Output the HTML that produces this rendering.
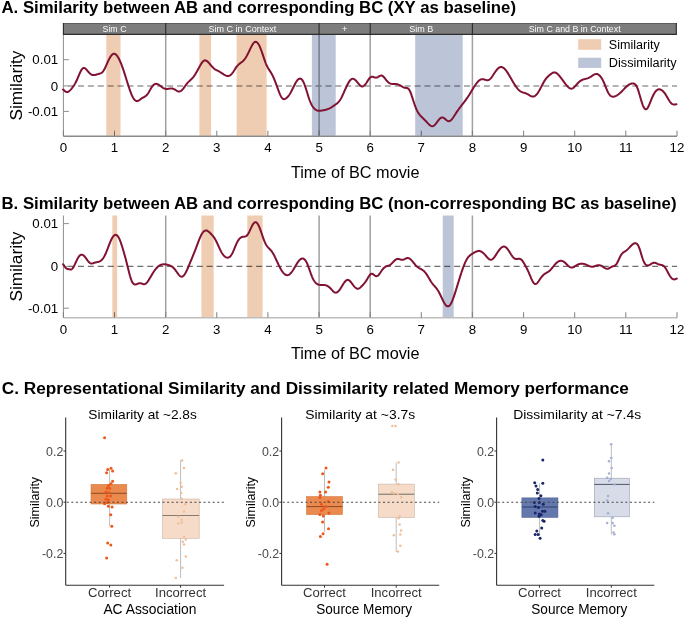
<!DOCTYPE html>
<html><head><meta charset="utf-8"><title>Figure</title>
<style>
html,body{margin:0;padding:0;background:#fff;}
body{width:685px;height:618px;overflow:hidden;font-family:"Liberation Sans",sans-serif;}
svg{display:block;}
</style></head><body>
<svg width="685" height="618" viewBox="0 0 685 618" font-family="Liberation Sans">
<rect width="685" height="618" fill="#ffffff"/>
<text x="1.5" y="13.3" font-size="15.60" text-anchor="start" font-weight="bold" fill="#000" textLength="514.5" lengthAdjust="spacingAndGlyphs" >A. Similarity between AB and corresponding BC (XY as baseline)</text>
<text x="1.5" y="208.6" font-size="15.60" text-anchor="start" font-weight="bold" fill="#000" textLength="675.0" lengthAdjust="spacingAndGlyphs" >B. Similarity between AB and corresponding BC (non-corresponding BC as baseline)</text>
<text x="1.8" y="394.2" font-size="15.60" text-anchor="start" font-weight="bold" fill="#000" textLength="627.0" lengthAdjust="spacingAndGlyphs" >C. Representational Similarity and Dissimilarity related Memory performance</text>
<rect x="63.4" y="23.0" width="613.1" height="12.0" fill="#7c7d7c"/>
<line x1="63.4" y1="23.5" x2="676.5" y2="23.5" stroke="#5e5e5e" stroke-width="1"/>
<line x1="63.4" y1="34.4" x2="676.5" y2="34.4" stroke="#2e2e2e" stroke-width="1.2"/>
<line x1="63.4" y1="23" x2="63.4" y2="35" stroke="#2a2a2a" stroke-width="1.1"/>
<line x1="165.7" y1="23" x2="165.7" y2="35" stroke="#2a2a2a" stroke-width="1.1"/>
<line x1="319.1" y1="23" x2="319.1" y2="35" stroke="#2a2a2a" stroke-width="1.1"/>
<line x1="370.2" y1="23" x2="370.2" y2="35" stroke="#2a2a2a" stroke-width="1.1"/>
<line x1="472.4" y1="23" x2="472.4" y2="35" stroke="#2a2a2a" stroke-width="1.1"/>
<line x1="676.3" y1="23" x2="676.3" y2="35" stroke="#2a2a2a" stroke-width="1.1"/>
<text x="114.5" y="32.3" font-size="9.30" text-anchor="middle" font-weight="normal" fill="#fbfbfb" textLength="24.0" lengthAdjust="spacingAndGlyphs" >Sim C</text>
<text x="242.4" y="32.3" font-size="9.30" text-anchor="middle" font-weight="normal" fill="#fbfbfb" textLength="68.0" lengthAdjust="spacingAndGlyphs" >Sim C in Context</text>
<text x="344.6" y="32.3" font-size="9.30" text-anchor="middle" font-weight="normal" fill="#fbfbfb" >+</text>
<text x="421.3" y="32.3" font-size="9.30" text-anchor="middle" font-weight="normal" fill="#fbfbfb" textLength="24.0" lengthAdjust="spacingAndGlyphs" >Sim B</text>
<text x="574.7" y="32.3" font-size="9.30" text-anchor="middle" font-weight="normal" fill="#fbfbfb" textLength="92.0" lengthAdjust="spacingAndGlyphs" >Sim C and B in Context</text>
<line x1="165.7" y1="35.0" x2="165.7" y2="136.2" stroke="#a0a0a0" stroke-width="1.5"/>
<line x1="319.1" y1="35.0" x2="319.1" y2="136.2" stroke="#a0a0a0" stroke-width="1.5"/>
<line x1="370.2" y1="35.0" x2="370.2" y2="136.2" stroke="#a0a0a0" stroke-width="1.5"/>
<line x1="472.4" y1="35.0" x2="472.4" y2="136.2" stroke="#a0a0a0" stroke-width="1.5"/>
<line x1="63.4" y1="85.9" x2="677.0" y2="85.9" stroke="#9a9a9a" stroke-width="1.50" stroke-dasharray="6,3.9" stroke-dashoffset="5.24"/>
<line x1="63.4" y1="35.0" x2="63.4" y2="136.2" stroke="#8f8f8f" stroke-width="1"/>
<line x1="63.4" y1="136.2" x2="677.0" y2="136.2" stroke="#8a8a8a" stroke-width="1.4"/>
<line x1="63.4" y1="59.7" x2="68.9" y2="59.7" stroke="#8f8f8f" stroke-width="1"/>
<line x1="63.4" y1="85.9" x2="68.9" y2="85.9" stroke="#8f8f8f" stroke-width="1"/>
<line x1="63.4" y1="111.4" x2="68.9" y2="111.4" stroke="#8f8f8f" stroke-width="1"/>
<line x1="63.4" y1="136.2" x2="63.4" y2="130.7" stroke="#7f7f7f" stroke-width="1"/>
<line x1="114.5" y1="136.2" x2="114.5" y2="130.7" stroke="#7f7f7f" stroke-width="1"/>
<line x1="165.7" y1="136.2" x2="165.7" y2="130.7" stroke="#7f7f7f" stroke-width="1"/>
<line x1="216.8" y1="136.2" x2="216.8" y2="130.7" stroke="#7f7f7f" stroke-width="1"/>
<line x1="267.9" y1="136.2" x2="267.9" y2="130.7" stroke="#7f7f7f" stroke-width="1"/>
<line x1="319.1" y1="136.2" x2="319.1" y2="130.7" stroke="#7f7f7f" stroke-width="1"/>
<line x1="370.2" y1="136.2" x2="370.2" y2="130.7" stroke="#7f7f7f" stroke-width="1"/>
<line x1="421.3" y1="136.2" x2="421.3" y2="130.7" stroke="#7f7f7f" stroke-width="1"/>
<line x1="472.4" y1="136.2" x2="472.4" y2="130.7" stroke="#7f7f7f" stroke-width="1"/>
<line x1="523.6" y1="136.2" x2="523.6" y2="130.7" stroke="#7f7f7f" stroke-width="1"/>
<line x1="574.7" y1="136.2" x2="574.7" y2="130.7" stroke="#7f7f7f" stroke-width="1"/>
<line x1="625.8" y1="136.2" x2="625.8" y2="130.7" stroke="#7f7f7f" stroke-width="1"/>
<line x1="677.0" y1="136.2" x2="677.0" y2="130.7" stroke="#7f7f7f" stroke-width="1"/>
<rect x="106.3" y="35.0" width="14.2" height="100.5" fill="#efcdb2" style="mix-blend-mode:multiply"/>
<rect x="199.4" y="35.0" width="11.7" height="100.5" fill="#efcdb2" style="mix-blend-mode:multiply"/>
<rect x="236.6" y="35.0" width="30.0" height="100.5" fill="#efcdb2" style="mix-blend-mode:multiply"/>
<rect x="311.9" y="35.0" width="23.8" height="100.5" fill="#bcc4d8" style="mix-blend-mode:multiply"/>
<rect x="415.2" y="35.0" width="47.5" height="100.5" fill="#bcc4d8" style="mix-blend-mode:multiply"/>
<path d="M63.00,89.49 L63.50,89.84 L64.00,90.28 L64.50,90.74 L65.00,91.17 L65.50,91.54 L66.00,91.81 L66.50,91.98 L67.00,92.03 L67.50,91.98 L68.00,91.82 L68.50,91.58 L69.00,91.25 L69.50,90.85 L70.00,90.38 L70.50,89.87 L71.00,89.31 L71.50,88.72 L72.00,88.10 L72.50,87.45 L73.00,86.77 L73.50,86.06 L74.00,85.32 L74.50,84.53 L75.00,83.69 L75.50,82.79 L76.00,81.83 L76.50,80.81 L77.00,79.73 L77.50,78.60 L78.00,77.43 L78.50,76.24 L79.00,75.04 L79.50,73.87 L80.00,72.75 L80.50,71.69 L81.00,70.72 L81.50,69.87 L82.00,69.15 L82.50,68.58 L83.00,68.19 L83.50,67.97 L84.00,67.92 L84.50,68.03 L85.00,68.29 L85.50,68.66 L86.00,69.13 L86.50,69.66 L87.00,70.24 L87.50,70.83 L88.00,71.43 L88.50,72.00 L89.00,72.55 L89.50,73.06 L90.00,73.52 L90.50,73.93 L91.00,74.29 L91.50,74.58 L92.00,74.80 L92.50,74.96 L93.00,75.06 L93.50,75.10 L94.00,75.09 L94.50,75.04 L95.00,74.95 L95.50,74.83 L96.00,74.69 L96.50,74.54 L97.00,74.39 L97.50,74.24 L98.00,74.09 L98.50,73.95 L99.00,73.82 L99.50,73.69 L100.00,73.55 L100.50,73.37 L101.00,73.15 L101.50,72.85 L102.00,72.48 L102.50,72.00 L103.00,71.41 L103.50,70.71 L104.00,69.90 L104.50,69.00 L105.00,68.02 L105.50,66.98 L106.00,65.89 L106.50,64.77 L107.00,63.65 L107.50,62.53 L108.00,61.43 L108.50,60.37 L109.00,59.35 L109.50,58.39 L110.00,57.50 L110.50,56.68 L111.00,55.95 L111.50,55.31 L112.00,54.76 L112.50,54.33 L113.00,54.00 L113.50,53.80 L114.00,53.73 L114.50,53.77 L115.00,53.94 L115.50,54.23 L116.00,54.63 L116.50,55.13 L117.00,55.74 L117.50,56.44 L118.00,57.22 L118.50,58.09 L119.00,59.03 L119.50,60.04 L120.00,61.12 L120.50,62.26 L121.00,63.47 L121.50,64.73 L122.00,66.04 L122.50,67.41 L123.00,68.82 L123.50,70.28 L124.00,71.78 L124.50,73.32 L125.00,74.88 L125.50,76.47 L126.00,78.07 L126.50,79.68 L127.00,81.28 L127.50,82.88 L128.00,84.46 L128.50,86.01 L129.00,87.53 L129.50,89.00 L130.00,90.43 L130.50,91.80 L131.00,93.10 L131.50,94.33 L132.00,95.48 L132.50,96.54 L133.00,97.51 L133.50,98.37 L134.00,99.12 L134.50,99.75 L135.00,100.26 L135.50,100.64 L136.00,100.89 L136.50,101.03 L137.00,101.05 L137.50,100.98 L138.00,100.82 L138.50,100.59 L139.00,100.31 L139.50,99.97 L140.00,99.62 L140.50,99.24 L141.00,98.87 L141.50,98.51 L142.00,98.16 L142.50,97.85 L143.00,97.56 L143.50,97.28 L144.00,97.02 L144.50,96.75 L145.00,96.46 L145.50,96.13 L146.00,95.75 L146.50,95.30 L147.00,94.77 L147.50,94.16 L148.00,93.46 L148.50,92.69 L149.00,91.87 L149.50,91.00 L150.00,90.12 L150.50,89.23 L151.00,88.37 L151.50,87.55 L152.00,86.80 L152.50,86.11 L153.00,85.51 L153.50,85.01 L154.00,84.59 L154.50,84.27 L155.00,84.03 L155.50,83.89 L156.00,83.83 L156.50,83.86 L157.00,83.96 L157.50,84.12 L158.00,84.35 L158.50,84.63 L159.00,84.95 L159.50,85.30 L160.00,85.66 L160.50,86.04 L161.00,86.42 L161.50,86.79 L162.00,87.15 L162.50,87.48 L163.00,87.80 L163.50,88.08 L164.00,88.33 L164.50,88.55 L165.00,88.72 L165.50,88.85 L166.00,88.93 L166.50,88.97 L167.00,88.97 L167.50,88.94 L168.00,88.88 L168.50,88.80 L169.00,88.71 L169.50,88.63 L170.00,88.55 L170.50,88.49 L171.00,88.45 L171.50,88.44 L172.00,88.47 L172.50,88.55 L173.00,88.67 L173.50,88.85 L174.00,89.08 L174.50,89.34 L175.00,89.64 L175.50,89.96 L176.00,90.28 L176.50,90.60 L177.00,90.89 L177.50,91.14 L178.00,91.33 L178.50,91.46 L179.00,91.52 L179.50,91.48 L180.00,91.36 L180.50,91.15 L181.00,90.85 L181.50,90.47 L182.00,90.02 L182.50,89.49 L183.00,88.91 L183.50,88.28 L184.00,87.61 L184.50,86.91 L185.00,86.21 L185.50,85.51 L186.00,84.82 L186.50,84.16 L187.00,83.54 L187.50,82.95 L188.00,82.40 L188.50,81.89 L189.00,81.39 L189.50,80.92 L190.00,80.45 L190.50,79.99 L191.00,79.52 L191.50,79.04 L192.00,78.53 L192.50,77.99 L193.00,77.42 L193.50,76.80 L194.00,76.14 L194.50,75.43 L195.00,74.68 L195.50,73.89 L196.00,73.06 L196.50,72.20 L197.00,71.32 L197.50,70.42 L198.00,69.50 L198.50,68.58 L199.00,67.66 L199.50,66.74 L200.00,65.84 L200.50,64.96 L201.00,64.12 L201.50,63.33 L202.00,62.61 L202.50,61.97 L203.00,61.42 L203.50,60.97 L204.00,60.64 L204.50,60.43 L205.00,60.35 L205.50,60.38 L206.00,60.53 L206.50,60.78 L207.00,61.11 L207.50,61.52 L208.00,61.99 L208.50,62.51 L209.00,63.06 L209.50,63.64 L210.00,64.23 L210.50,64.82 L211.00,65.40 L211.50,65.98 L212.00,66.53 L212.50,67.06 L213.00,67.56 L213.50,68.03 L214.00,68.46 L214.50,68.86 L215.00,69.22 L215.50,69.56 L216.00,69.86 L216.50,70.15 L217.00,70.42 L217.50,70.68 L218.00,70.94 L218.50,71.19 L219.00,71.45 L219.50,71.72 L220.00,72.00 L220.50,72.30 L221.00,72.61 L221.50,72.93 L222.00,73.26 L222.50,73.60 L223.00,73.94 L223.50,74.27 L224.00,74.59 L224.50,74.88 L225.00,75.16 L225.50,75.40 L226.00,75.61 L226.50,75.78 L227.00,75.90 L227.50,75.96 L228.00,75.97 L228.50,75.92 L229.00,75.80 L229.50,75.61 L230.00,75.35 L230.50,75.02 L231.00,74.61 L231.50,74.13 L232.00,73.57 L232.50,72.95 L233.00,72.27 L233.50,71.53 L234.00,70.76 L234.50,69.97 L235.00,69.18 L235.50,68.40 L236.00,67.64 L236.50,66.92 L237.00,66.26 L237.50,65.65 L238.00,65.10 L238.50,64.60 L239.00,64.15 L239.50,63.74 L240.00,63.35 L240.50,62.99 L241.00,62.62 L241.50,62.25 L242.00,61.87 L242.50,61.46 L243.00,61.01 L243.50,60.51 L244.00,59.96 L244.50,59.36 L245.00,58.69 L245.50,57.97 L246.00,57.19 L246.50,56.36 L247.00,55.48 L247.50,54.55 L248.00,53.58 L248.50,52.57 L249.00,51.54 L249.50,50.49 L250.00,49.43 L250.50,48.38 L251.00,47.35 L251.50,46.37 L252.00,45.43 L252.50,44.57 L253.00,43.80 L253.50,43.14 L254.00,42.59 L254.50,42.19 L255.00,41.92 L255.50,41.81 L256.00,41.85 L256.50,42.04 L257.00,42.37 L257.50,42.85 L258.00,43.46 L258.50,44.20 L259.00,45.07 L259.50,46.05 L260.00,47.14 L260.50,48.33 L261.00,49.62 L261.50,50.98 L262.00,52.40 L262.50,53.87 L263.00,55.36 L263.50,56.86 L264.00,58.35 L264.50,59.81 L265.00,61.21 L265.50,62.56 L266.00,63.82 L266.50,64.99 L267.00,66.07 L267.50,67.05 L268.00,67.96 L268.50,68.80 L269.00,69.60 L269.50,70.37 L270.00,71.13 L270.50,71.90 L271.00,72.70 L271.50,73.55 L272.00,74.45 L272.50,75.41 L273.00,76.43 L273.50,77.52 L274.00,78.66 L274.50,79.85 L275.00,81.10 L275.50,82.39 L276.00,83.71 L276.50,85.07 L277.00,86.45 L277.50,87.84 L278.00,89.22 L278.50,90.58 L279.00,91.90 L279.50,93.16 L280.00,94.34 L280.50,95.43 L281.00,96.40 L281.50,97.23 L282.00,97.93 L282.50,98.46 L283.00,98.84 L283.50,99.06 L284.00,99.14 L284.50,99.10 L285.00,98.95 L285.50,98.70 L286.00,98.39 L286.50,98.01 L287.00,97.57 L287.50,97.08 L288.00,96.53 L288.50,95.92 L289.00,95.26 L289.50,94.53 L290.00,93.74 L290.50,92.89 L291.00,91.98 L291.50,91.02 L292.00,90.03 L292.50,89.02 L293.00,87.99 L293.50,86.96 L294.00,85.94 L294.50,84.94 L295.00,83.99 L295.50,83.07 L296.00,82.22 L296.50,81.43 L297.00,80.72 L297.50,80.09 L298.00,79.56 L298.50,79.14 L299.00,78.83 L299.50,78.64 L300.00,78.57 L300.50,78.65 L301.00,78.86 L301.50,79.22 L302.00,79.73 L302.50,80.38 L303.00,81.19 L303.50,82.15 L304.00,83.25 L304.50,84.50 L305.00,85.87 L305.50,87.35 L306.00,88.90 L306.50,90.52 L307.00,92.15 L307.50,93.79 L308.00,95.39 L308.50,96.94 L309.00,98.41 L309.50,99.81 L310.00,101.11 L310.50,102.32 L311.00,103.44 L311.50,104.47 L312.00,105.41 L312.50,106.26 L313.00,107.03 L313.50,107.71 L314.00,108.31 L314.50,108.83 L315.00,109.28 L315.50,109.65 L316.00,109.97 L316.50,110.22 L317.00,110.42 L317.50,110.57 L318.00,110.67 L318.50,110.74 L319.00,110.77 L319.50,110.77 L320.00,110.74 L320.50,110.70 L321.00,110.64 L321.50,110.57 L322.00,110.49 L322.50,110.41 L323.00,110.33 L323.50,110.24 L324.00,110.15 L324.50,110.05 L325.00,109.94 L325.50,109.83 L326.00,109.70 L326.50,109.56 L327.00,109.41 L327.50,109.24 L328.00,109.05 L328.50,108.85 L329.00,108.62 L329.50,108.38 L330.00,108.12 L330.50,107.85 L331.00,107.56 L331.50,107.25 L332.00,106.94 L332.50,106.61 L333.00,106.27 L333.50,105.93 L334.00,105.58 L334.50,105.23 L335.00,104.88 L335.50,104.52 L336.00,104.15 L336.50,103.77 L337.00,103.37 L337.50,102.94 L338.00,102.47 L338.50,101.96 L339.00,101.39 L339.50,100.76 L340.00,100.05 L340.50,99.28 L341.00,98.43 L341.50,97.51 L342.00,96.53 L342.50,95.49 L343.00,94.41 L343.50,93.30 L344.00,92.17 L344.50,91.02 L345.00,89.88 L345.50,88.74 L346.00,87.63 L346.50,86.55 L347.00,85.50 L347.50,84.50 L348.00,83.56 L348.50,82.67 L349.00,81.86 L349.50,81.13 L350.00,80.48 L350.50,79.93 L351.00,79.48 L351.50,79.13 L352.00,78.90 L352.50,78.78 L353.00,78.77 L353.50,78.88 L354.00,79.08 L354.50,79.37 L355.00,79.74 L355.50,80.18 L356.00,80.67 L356.50,81.22 L357.00,81.80 L357.50,82.40 L358.00,83.02 L358.50,83.62 L359.00,84.21 L359.50,84.76 L360.00,85.26 L360.50,85.69 L361.00,86.03 L361.50,86.28 L362.00,86.42 L362.50,86.43 L363.00,86.33 L363.50,86.10 L364.00,85.76 L364.50,85.32 L365.00,84.78 L365.50,84.16 L366.00,83.46 L366.50,82.71 L367.00,81.93 L367.50,81.12 L368.00,80.32 L368.50,79.55 L369.00,78.84 L369.50,78.20 L370.00,77.67 L370.50,77.25 L371.00,76.95 L371.50,76.78 L372.00,76.72 L372.50,76.76 L373.00,76.86 L373.50,77.01 L374.00,77.19 L374.50,77.36 L375.00,77.51 L375.50,77.61 L376.00,77.65 L376.50,77.61 L377.00,77.48 L377.50,77.28 L378.00,77.01 L378.50,76.71 L379.00,76.40 L379.50,76.10 L380.00,75.84 L380.50,75.65 L381.00,75.54 L381.50,75.55 L382.00,75.67 L382.50,75.92 L383.00,76.27 L383.50,76.73 L384.00,77.26 L384.50,77.85 L385.00,78.49 L385.50,79.14 L386.00,79.79 L386.50,80.43 L387.00,81.03 L387.50,81.58 L388.00,82.07 L388.50,82.49 L389.00,82.86 L389.50,83.16 L390.00,83.41 L390.50,83.61 L391.00,83.76 L391.50,83.87 L392.00,83.94 L392.50,83.98 L393.00,84.01 L393.50,84.01 L394.00,84.01 L394.50,84.01 L395.00,84.01 L395.50,84.02 L396.00,84.06 L396.50,84.11 L397.00,84.20 L397.50,84.31 L398.00,84.44 L398.50,84.61 L399.00,84.81 L399.50,85.04 L400.00,85.30 L400.50,85.58 L401.00,85.88 L401.50,86.18 L402.00,86.49 L402.50,86.79 L403.00,87.07 L403.50,87.31 L404.00,87.51 L404.50,87.67 L405.00,87.78 L405.50,87.85 L406.00,87.89 L406.50,87.94 L407.00,88.03 L407.50,88.19 L408.00,88.47 L408.50,88.89 L409.00,89.48 L409.50,90.27 L410.00,91.24 L410.50,92.40 L411.00,93.70 L411.50,95.12 L412.00,96.62 L412.50,98.17 L413.00,99.72 L413.50,101.27 L414.00,102.79 L414.50,104.26 L415.00,105.66 L415.50,107.00 L416.00,108.26 L416.50,109.43 L417.00,110.51 L417.50,111.49 L418.00,112.38 L418.50,113.18 L419.00,113.91 L419.50,114.58 L420.00,115.18 L420.50,115.75 L421.00,116.28 L421.50,116.79 L422.00,117.29 L422.50,117.77 L423.00,118.26 L423.50,118.74 L424.00,119.23 L424.50,119.72 L425.00,120.23 L425.50,120.74 L426.00,121.26 L426.50,121.79 L427.00,122.32 L427.50,122.86 L428.00,123.40 L428.50,123.92 L429.00,124.42 L429.50,124.88 L430.00,125.30 L430.50,125.65 L431.00,125.93 L431.50,126.13 L432.00,126.23 L432.50,126.22 L433.00,126.11 L433.50,125.89 L434.00,125.57 L434.50,125.16 L435.00,124.67 L435.50,124.11 L436.00,123.50 L436.50,122.85 L437.00,122.18 L437.50,121.50 L438.00,120.83 L438.50,120.17 L439.00,119.56 L439.50,118.99 L440.00,118.49 L440.50,118.08 L441.00,117.76 L441.50,117.55 L442.00,117.45 L442.50,117.47 L443.00,117.59 L443.50,117.82 L444.00,118.12 L444.50,118.48 L445.00,118.89 L445.50,119.31 L446.00,119.74 L446.50,120.14 L447.00,120.50 L447.50,120.80 L448.00,121.02 L448.50,121.14 L449.00,121.15 L449.50,121.05 L450.00,120.84 L450.50,120.53 L451.00,120.12 L451.50,119.62 L452.00,119.05 L452.50,118.41 L453.00,117.73 L453.50,117.00 L454.00,116.25 L454.50,115.48 L455.00,114.70 L455.50,113.92 L456.00,113.16 L456.50,112.40 L457.00,111.66 L457.50,110.94 L458.00,110.22 L458.50,109.52 L459.00,108.83 L459.50,108.15 L460.00,107.48 L460.50,106.82 L461.00,106.16 L461.50,105.51 L462.00,104.86 L462.50,104.21 L463.00,103.57 L463.50,102.92 L464.00,102.27 L464.50,101.61 L465.00,100.95 L465.50,100.28 L466.00,99.60 L466.50,98.91 L467.00,98.20 L467.50,97.48 L468.00,96.74 L468.50,95.98 L469.00,95.20 L469.50,94.41 L470.00,93.60 L470.50,92.78 L471.00,91.95 L471.50,91.11 L472.00,90.27 L472.50,89.44 L473.00,88.61 L473.50,87.79 L474.00,86.99 L474.50,86.20 L475.00,85.44 L475.50,84.71 L476.00,84.00 L476.50,83.33 L477.00,82.70 L477.50,82.11 L478.00,81.57 L478.50,81.07 L479.00,80.62 L479.50,80.22 L480.00,79.88 L480.50,79.61 L481.00,79.39 L481.50,79.24 L482.00,79.15 L482.50,79.13 L483.00,79.16 L483.50,79.25 L484.00,79.37 L484.50,79.52 L485.00,79.68 L485.50,79.85 L486.00,79.99 L486.50,80.11 L487.00,80.18 L487.50,80.20 L488.00,80.15 L488.50,80.02 L489.00,79.80 L489.50,79.49 L490.00,79.09 L490.50,78.61 L491.00,78.05 L491.50,77.43 L492.00,76.75 L492.50,76.04 L493.00,75.29 L493.50,74.53 L494.00,73.77 L494.50,73.01 L495.00,72.26 L495.50,71.54 L496.00,70.85 L496.50,70.19 L497.00,69.58 L497.50,69.01 L498.00,68.51 L498.50,68.07 L499.00,67.71 L499.50,67.41 L500.00,67.20 L500.50,67.07 L501.00,67.02 L501.50,67.04 L502.00,67.15 L502.50,67.33 L503.00,67.58 L503.50,67.90 L504.00,68.28 L504.50,68.73 L505.00,69.24 L505.50,69.81 L506.00,70.43 L506.50,71.10 L507.00,71.82 L507.50,72.58 L508.00,73.36 L508.50,74.18 L509.00,75.02 L509.50,75.87 L510.00,76.73 L510.50,77.60 L511.00,78.47 L511.50,79.33 L512.00,80.19 L512.50,81.05 L513.00,81.89 L513.50,82.72 L514.00,83.53 L514.50,84.33 L515.00,85.10 L515.50,85.85 L516.00,86.58 L516.50,87.27 L517.00,87.93 L517.50,88.56 L518.00,89.15 L518.50,89.69 L519.00,90.18 L519.50,90.63 L520.00,91.02 L520.50,91.37 L521.00,91.66 L521.50,91.91 L522.00,92.13 L522.50,92.32 L523.00,92.48 L523.50,92.62 L524.00,92.76 L524.50,92.90 L525.00,93.04 L525.50,93.20 L526.00,93.38 L526.50,93.58 L527.00,93.81 L527.50,94.07 L528.00,94.36 L528.50,94.66 L529.00,94.97 L529.50,95.28 L530.00,95.58 L530.50,95.86 L531.00,96.11 L531.50,96.31 L532.00,96.47 L532.50,96.57 L533.00,96.60 L533.50,96.55 L534.00,96.42 L534.50,96.21 L535.00,95.91 L535.50,95.54 L536.00,95.09 L536.50,94.56 L537.00,93.97 L537.50,93.32 L538.00,92.60 L538.50,91.83 L539.00,91.01 L539.50,90.14 L540.00,89.24 L540.50,88.31 L541.00,87.35 L541.50,86.39 L542.00,85.42 L542.50,84.45 L543.00,83.51 L543.50,82.59 L544.00,81.70 L544.50,80.86 L545.00,80.07 L545.50,79.34 L546.00,78.66 L546.50,78.03 L547.00,77.46 L547.50,76.93 L548.00,76.44 L548.50,75.98 L549.00,75.55 L549.50,75.13 L550.00,74.73 L550.50,74.34 L551.00,73.96 L551.50,73.60 L552.00,73.26 L552.50,72.96 L553.00,72.72 L553.50,72.53 L554.00,72.41 L554.50,72.38 L555.00,72.43 L555.50,72.56 L556.00,72.78 L556.50,73.08 L557.00,73.44 L557.50,73.87 L558.00,74.34 L558.50,74.87 L559.00,75.43 L559.50,76.02 L560.00,76.64 L560.50,77.27 L561.00,77.92 L561.50,78.58 L562.00,79.25 L562.50,79.92 L563.00,80.60 L563.50,81.29 L564.00,81.97 L564.50,82.65 L565.00,83.32 L565.50,83.98 L566.00,84.62 L566.50,85.24 L567.00,85.83 L567.50,86.38 L568.00,86.89 L568.50,87.34 L569.00,87.74 L569.50,88.08 L570.00,88.34 L570.50,88.53 L571.00,88.63 L571.50,88.64 L572.00,88.56 L572.50,88.39 L573.00,88.13 L573.50,87.79 L574.00,87.38 L574.50,86.90 L575.00,86.38 L575.50,85.83 L576.00,85.25 L576.50,84.67 L577.00,84.09 L577.50,83.52 L578.00,82.98 L578.50,82.47 L579.00,82.01 L579.50,81.58 L580.00,81.19 L580.50,80.84 L581.00,80.52 L581.50,80.24 L582.00,79.99 L582.50,79.77 L583.00,79.58 L583.50,79.41 L584.00,79.27 L584.50,79.13 L585.00,79.01 L585.50,78.89 L586.00,78.77 L586.50,78.64 L587.00,78.51 L587.50,78.35 L588.00,78.17 L588.50,77.97 L589.00,77.73 L589.50,77.47 L590.00,77.18 L590.50,76.87 L591.00,76.55 L591.50,76.21 L592.00,75.88 L592.50,75.55 L593.00,75.23 L593.50,74.93 L594.00,74.67 L594.50,74.44 L595.00,74.25 L595.50,74.12 L596.00,74.04 L596.50,74.03 L597.00,74.09 L597.50,74.22 L598.00,74.43 L598.50,74.71 L599.00,75.06 L599.50,75.49 L600.00,76.00 L600.50,76.57 L601.00,77.22 L601.50,77.94 L602.00,78.74 L602.50,79.62 L603.00,80.57 L603.50,81.61 L604.00,82.72 L604.50,83.90 L605.00,85.13 L605.50,86.39 L606.00,87.66 L606.50,88.90 L607.00,90.10 L607.50,91.23 L608.00,92.26 L608.50,93.18 L609.00,93.99 L609.50,94.67 L610.00,95.24 L610.50,95.71 L611.00,96.07 L611.50,96.34 L612.00,96.52 L612.50,96.63 L613.00,96.67 L613.50,96.64 L614.00,96.56 L614.50,96.43 L615.00,96.26 L615.50,96.05 L616.00,95.82 L616.50,95.55 L617.00,95.26 L617.50,94.95 L618.00,94.61 L618.50,94.25 L619.00,93.87 L619.50,93.47 L620.00,93.04 L620.50,92.60 L621.00,92.14 L621.50,91.66 L622.00,91.17 L622.50,90.66 L623.00,90.15 L623.50,89.62 L624.00,89.10 L624.50,88.57 L625.00,88.05 L625.50,87.54 L626.00,87.05 L626.50,86.57 L627.00,86.11 L627.50,85.69 L628.00,85.29 L628.50,84.93 L629.00,84.60 L629.50,84.31 L630.00,84.05 L630.50,83.84 L631.00,83.66 L631.50,83.53 L632.00,83.44 L632.50,83.40 L633.00,83.41 L633.50,83.49 L634.00,83.64 L634.50,83.88 L635.00,84.23 L635.50,84.72 L636.00,85.37 L636.50,86.18 L637.00,87.17 L637.50,88.34 L638.00,89.68 L638.50,91.17 L639.00,92.78 L639.50,94.47 L640.00,96.21 L640.50,97.96 L641.00,99.69 L641.50,101.35 L642.00,102.92 L642.50,104.37 L643.00,105.67 L643.50,106.80 L644.00,107.74 L644.50,108.48 L645.00,108.99 L645.50,109.28 L646.00,109.34 L646.50,109.15 L647.00,108.73 L647.50,108.11 L648.00,107.29 L648.50,106.32 L649.00,105.23 L649.50,104.06 L650.00,102.83 L650.50,101.58 L651.00,100.34 L651.50,99.12 L652.00,97.95 L652.50,96.82 L653.00,95.75 L653.50,94.74 L654.00,93.81 L654.50,92.96 L655.00,92.19 L655.50,91.52 L656.00,90.93 L656.50,90.44 L657.00,90.04 L657.50,89.73 L658.00,89.51 L658.50,89.36 L659.00,89.30 L659.50,89.31 L660.00,89.40 L660.50,89.55 L661.00,89.76 L661.50,90.04 L662.00,90.38 L662.50,90.78 L663.00,91.24 L663.50,91.76 L664.00,92.33 L664.50,92.96 L665.00,93.65 L665.50,94.39 L666.00,95.17 L666.50,95.99 L667.00,96.84 L667.50,97.71 L668.00,98.58 L668.50,99.43 L669.00,100.26 L669.50,101.05 L670.00,101.78 L670.50,102.44 L671.00,103.02 L671.50,103.51 L672.00,103.90 L672.50,104.19 L673.00,104.40 L673.50,104.52 L674.00,104.57 L674.50,104.56 L675.00,104.50 L675.50,104.42 L676.00,104.33 L676.50,104.25" fill="none" stroke="#811232" stroke-width="2" stroke-linejoin="round" stroke-linecap="round"/>
<text x="63.4" y="152.4" font-size="13.30" text-anchor="middle" font-weight="normal" fill="#000" >0</text>
<text x="114.5" y="152.4" font-size="13.30" text-anchor="middle" font-weight="normal" fill="#000" >1</text>
<text x="165.7" y="152.4" font-size="13.30" text-anchor="middle" font-weight="normal" fill="#000" >2</text>
<text x="216.8" y="152.4" font-size="13.30" text-anchor="middle" font-weight="normal" fill="#000" >3</text>
<text x="267.9" y="152.4" font-size="13.30" text-anchor="middle" font-weight="normal" fill="#000" >4</text>
<text x="319.1" y="152.4" font-size="13.30" text-anchor="middle" font-weight="normal" fill="#000" >5</text>
<text x="370.2" y="152.4" font-size="13.30" text-anchor="middle" font-weight="normal" fill="#000" >6</text>
<text x="421.3" y="152.4" font-size="13.30" text-anchor="middle" font-weight="normal" fill="#000" >7</text>
<text x="472.4" y="152.4" font-size="13.30" text-anchor="middle" font-weight="normal" fill="#000" >8</text>
<text x="523.6" y="152.4" font-size="13.30" text-anchor="middle" font-weight="normal" fill="#000" >9</text>
<text x="574.7" y="152.4" font-size="13.30" text-anchor="middle" font-weight="normal" fill="#000" >10</text>
<text x="625.8" y="152.4" font-size="13.30" text-anchor="middle" font-weight="normal" fill="#000" >11</text>
<text x="677.0" y="152.4" font-size="13.30" text-anchor="middle" font-weight="normal" fill="#000" >12</text>
<text x="58.2" y="64.4" font-size="13.30" text-anchor="end" font-weight="normal" fill="#000" >0.01</text>
<text x="58.2" y="90.6" font-size="13.30" text-anchor="end" font-weight="normal" fill="#000" >0</text>
<text x="58.2" y="116.1" font-size="13.30" text-anchor="end" font-weight="normal" fill="#000" >-0.01</text>
<text transform="translate(22.4,85.6) rotate(-90)" font-size="16.5" text-anchor="middle" fill="#000" textLength="70" lengthAdjust="spacingAndGlyphs">Similarity</text>
<text x="355.2" y="177.6" font-size="16.00" text-anchor="middle" font-weight="normal" fill="#000" textLength="128.5" lengthAdjust="spacingAndGlyphs" >Time of BC movie</text>
<line x1="165.7" y1="215.5" x2="165.7" y2="317.7" stroke="#a0a0a0" stroke-width="1.5"/>
<line x1="319.1" y1="215.5" x2="319.1" y2="317.7" stroke="#a0a0a0" stroke-width="1.5"/>
<line x1="370.2" y1="215.5" x2="370.2" y2="317.7" stroke="#a0a0a0" stroke-width="1.5"/>
<line x1="472.4" y1="215.5" x2="472.4" y2="317.7" stroke="#a0a0a0" stroke-width="1.5"/>
<line x1="63.4" y1="266.4" x2="677.0" y2="266.4" stroke="#6e6e6e" stroke-width="1.20" stroke-dasharray="6,3.9" stroke-dashoffset="5.24"/>
<line x1="63.4" y1="215.5" x2="63.4" y2="317.7" stroke="#8f8f8f" stroke-width="1"/>
<line x1="63.4" y1="317.7" x2="677.0" y2="317.7" stroke="#bdbdbd" stroke-width="1.4"/>
<line x1="63.4" y1="223.6" x2="68.9" y2="223.6" stroke="#8f8f8f" stroke-width="1"/>
<line x1="63.4" y1="266.4" x2="68.9" y2="266.4" stroke="#8f8f8f" stroke-width="1"/>
<line x1="63.4" y1="308.2" x2="68.9" y2="308.2" stroke="#8f8f8f" stroke-width="1"/>
<line x1="63.4" y1="317.7" x2="63.4" y2="312.2" stroke="#7f7f7f" stroke-width="1"/>
<line x1="114.5" y1="317.7" x2="114.5" y2="312.2" stroke="#7f7f7f" stroke-width="1"/>
<line x1="165.7" y1="317.7" x2="165.7" y2="312.2" stroke="#7f7f7f" stroke-width="1"/>
<line x1="216.8" y1="317.7" x2="216.8" y2="312.2" stroke="#7f7f7f" stroke-width="1"/>
<line x1="267.9" y1="317.7" x2="267.9" y2="312.2" stroke="#7f7f7f" stroke-width="1"/>
<line x1="319.1" y1="317.7" x2="319.1" y2="312.2" stroke="#7f7f7f" stroke-width="1"/>
<line x1="370.2" y1="317.7" x2="370.2" y2="312.2" stroke="#7f7f7f" stroke-width="1"/>
<line x1="421.3" y1="317.7" x2="421.3" y2="312.2" stroke="#7f7f7f" stroke-width="1"/>
<line x1="472.4" y1="317.7" x2="472.4" y2="312.2" stroke="#7f7f7f" stroke-width="1"/>
<line x1="523.6" y1="317.7" x2="523.6" y2="312.2" stroke="#7f7f7f" stroke-width="1"/>
<line x1="574.7" y1="317.7" x2="574.7" y2="312.2" stroke="#7f7f7f" stroke-width="1"/>
<line x1="625.8" y1="317.7" x2="625.8" y2="312.2" stroke="#7f7f7f" stroke-width="1"/>
<line x1="677.0" y1="317.7" x2="677.0" y2="312.2" stroke="#7f7f7f" stroke-width="1"/>
<rect x="112.3" y="215.5" width="4.9" height="101.5" fill="#efcdb2" style="mix-blend-mode:multiply"/>
<rect x="201.4" y="215.5" width="12.3" height="101.5" fill="#efcdb2" style="mix-blend-mode:multiply"/>
<rect x="247.3" y="215.5" width="15.3" height="101.5" fill="#efcdb2" style="mix-blend-mode:multiply"/>
<rect x="442.7" y="215.5" width="11.0" height="101.5" fill="#bcc4d8" style="mix-blend-mode:multiply"/>
<path d="M63.10,264.26 L63.60,264.88 L64.10,265.64 L64.60,266.44 L65.10,267.19 L65.60,267.81 L66.10,268.28 L66.60,268.61 L67.10,268.81 L67.60,268.93 L68.10,269.03 L68.60,269.14 L69.10,269.27 L69.60,269.40 L70.10,269.52 L70.60,269.57 L71.10,269.51 L71.60,269.31 L72.10,268.94 L72.60,268.40 L73.10,267.70 L73.60,266.87 L74.10,265.92 L74.60,264.90 L75.10,263.83 L75.60,262.73 L76.10,261.65 L76.60,260.59 L77.10,259.57 L77.60,258.62 L78.10,257.75 L78.60,256.96 L79.10,256.28 L79.60,255.71 L80.10,255.26 L80.60,254.94 L81.10,254.73 L81.60,254.65 L82.10,254.69 L82.60,254.85 L83.10,255.12 L83.60,255.48 L84.10,255.94 L84.60,256.47 L85.10,257.07 L85.60,257.72 L86.10,258.41 L86.60,259.12 L87.10,259.83 L87.60,260.52 L88.10,261.18 L88.60,261.79 L89.10,262.32 L89.60,262.77 L90.10,263.11 L90.60,263.35 L91.10,263.48 L91.60,263.52 L92.10,263.48 L92.60,263.38 L93.10,263.24 L93.60,263.07 L94.10,262.89 L94.60,262.72 L95.10,262.57 L95.60,262.43 L96.10,262.32 L96.60,262.23 L97.10,262.14 L97.60,262.04 L98.10,261.94 L98.60,261.81 L99.10,261.66 L99.60,261.46 L100.10,261.21 L100.60,260.90 L101.10,260.53 L101.60,260.08 L102.10,259.56 L102.60,258.97 L103.10,258.30 L103.60,257.54 L104.10,256.71 L104.60,255.80 L105.10,254.80 L105.60,253.73 L106.10,252.58 L106.60,251.37 L107.10,250.11 L107.60,248.81 L108.10,247.48 L108.60,246.16 L109.10,244.84 L109.60,243.56 L110.10,242.33 L110.60,241.16 L111.10,240.06 L111.60,239.04 L112.10,238.12 L112.60,237.29 L113.10,236.58 L113.60,235.97 L114.10,235.49 L114.60,235.14 L115.10,234.92 L115.60,234.83 L116.10,234.89 L116.60,235.09 L117.10,235.44 L117.60,235.94 L118.10,236.60 L118.60,237.40 L119.10,238.35 L119.60,239.44 L120.10,240.66 L120.60,241.98 L121.10,243.40 L121.60,244.90 L122.10,246.46 L122.60,248.07 L123.10,249.73 L123.60,251.42 L124.10,253.14 L124.60,254.90 L125.10,256.70 L125.60,258.55 L126.10,260.45 L126.60,262.40 L127.10,264.40 L127.60,266.44 L128.10,268.50 L128.60,270.54 L129.10,272.54 L129.60,274.47 L130.10,276.28 L130.60,277.94 L131.10,279.43 L131.60,280.72 L132.10,281.80 L132.60,282.69 L133.10,283.37 L133.60,283.88 L134.10,284.23 L134.60,284.43 L135.10,284.51 L135.60,284.48 L136.10,284.37 L136.60,284.21 L137.10,284.00 L137.60,283.78 L138.10,283.57 L138.60,283.38 L139.10,283.25 L139.60,283.18 L140.10,283.18 L140.60,283.24 L141.10,283.37 L141.60,283.53 L142.10,283.72 L142.60,283.90 L143.10,284.06 L143.60,284.17 L144.10,284.20 L144.60,284.15 L145.10,283.99 L145.60,283.72 L146.10,283.35 L146.60,282.87 L147.10,282.30 L147.60,281.66 L148.10,280.95 L148.60,280.19 L149.10,279.39 L149.60,278.56 L150.10,277.72 L150.60,276.88 L151.10,276.03 L151.60,275.19 L152.10,274.36 L152.60,273.55 L153.10,272.76 L153.60,271.99 L154.10,271.24 L154.60,270.52 L155.10,269.84 L155.60,269.19 L156.10,268.58 L156.60,268.01 L157.10,267.48 L157.60,266.99 L158.10,266.56 L158.60,266.16 L159.10,265.80 L159.60,265.49 L160.10,265.22 L160.60,264.98 L161.10,264.78 L161.60,264.62 L162.10,264.49 L162.60,264.39 L163.10,264.32 L163.60,264.29 L164.10,264.27 L164.60,264.29 L165.10,264.33 L165.60,264.39 L166.10,264.46 L166.60,264.56 L167.10,264.67 L167.60,264.80 L168.10,264.94 L168.60,265.09 L169.10,265.26 L169.60,265.44 L170.10,265.64 L170.60,265.86 L171.10,266.11 L171.60,266.40 L172.10,266.72 L172.60,267.09 L173.10,267.51 L173.60,267.98 L174.10,268.50 L174.60,269.08 L175.10,269.71 L175.60,270.37 L176.10,271.07 L176.60,271.78 L177.10,272.50 L177.60,273.20 L178.10,273.88 L178.60,274.53 L179.10,275.12 L179.60,275.64 L180.10,276.08 L180.60,276.41 L181.10,276.63 L181.60,276.71 L182.10,276.66 L182.60,276.47 L183.10,276.13 L183.60,275.67 L184.10,275.08 L184.60,274.39 L185.10,273.60 L185.60,272.73 L186.10,271.78 L186.60,270.78 L187.10,269.72 L187.60,268.62 L188.10,267.48 L188.60,266.32 L189.10,265.13 L189.60,263.92 L190.10,262.70 L190.60,261.48 L191.10,260.25 L191.60,259.03 L192.10,257.81 L192.60,256.59 L193.10,255.36 L193.60,254.13 L194.10,252.90 L194.60,251.64 L195.10,250.38 L195.60,249.09 L196.10,247.79 L196.60,246.46 L197.10,245.12 L197.60,243.78 L198.10,242.45 L198.60,241.13 L199.10,239.84 L199.60,238.60 L200.10,237.42 L200.60,236.31 L201.10,235.27 L201.60,234.33 L202.10,233.49 L202.60,232.75 L203.10,232.11 L203.60,231.58 L204.10,231.16 L204.60,230.83 L205.10,230.62 L205.60,230.50 L206.10,230.49 L206.60,230.57 L207.10,230.73 L207.60,230.98 L208.10,231.29 L208.60,231.67 L209.10,232.09 L209.60,232.54 L210.10,233.02 L210.60,233.51 L211.10,234.01 L211.60,234.53 L212.10,235.07 L212.60,235.62 L213.10,236.22 L213.60,236.85 L214.10,237.54 L214.60,238.30 L215.10,239.12 L215.60,240.01 L216.10,240.96 L216.60,241.98 L217.10,243.03 L217.60,244.12 L218.10,245.23 L218.60,246.34 L219.10,247.45 L219.60,248.53 L220.10,249.59 L220.60,250.60 L221.10,251.56 L221.60,252.46 L222.10,253.29 L222.60,254.05 L223.10,254.74 L223.60,255.36 L224.10,255.91 L224.60,256.38 L225.10,256.78 L225.60,257.11 L226.10,257.36 L226.60,257.53 L227.10,257.63 L227.60,257.65 L228.10,257.60 L228.60,257.45 L229.10,257.22 L229.60,256.90 L230.10,256.47 L230.60,255.95 L231.10,255.31 L231.60,254.55 L232.10,253.69 L232.60,252.72 L233.10,251.66 L233.60,250.53 L234.10,249.35 L234.60,248.13 L235.10,246.91 L235.60,245.70 L236.10,244.53 L236.60,243.43 L237.10,242.39 L237.60,241.45 L238.10,240.60 L238.60,239.85 L239.10,239.19 L239.60,238.62 L240.10,238.14 L240.60,237.74 L241.10,237.42 L241.60,237.17 L242.10,236.98 L242.60,236.85 L243.10,236.77 L243.60,236.71 L244.10,236.67 L244.60,236.62 L245.10,236.53 L245.60,236.38 L246.10,236.14 L246.60,235.80 L247.10,235.32 L247.60,234.72 L248.10,233.98 L248.60,233.12 L249.10,232.16 L249.60,231.13 L250.10,230.05 L250.60,228.95 L251.10,227.86 L251.60,226.81 L252.10,225.81 L252.60,224.90 L253.10,224.09 L253.60,223.40 L254.10,222.85 L254.60,222.46 L255.10,222.23 L255.60,222.18 L256.10,222.32 L256.60,222.63 L257.10,223.12 L257.60,223.77 L258.10,224.57 L258.60,225.51 L259.10,226.58 L259.60,227.76 L260.10,229.04 L260.60,230.39 L261.10,231.81 L261.60,233.27 L262.10,234.75 L262.60,236.23 L263.10,237.67 L263.60,239.07 L264.10,240.39 L264.60,241.63 L265.10,242.76 L265.60,243.77 L266.10,244.68 L266.60,245.49 L267.10,246.21 L267.60,246.85 L268.10,247.43 L268.60,247.97 L269.10,248.48 L269.60,248.98 L270.10,249.50 L270.60,250.03 L271.10,250.61 L271.60,251.24 L272.10,251.93 L272.60,252.68 L273.10,253.51 L273.60,254.39 L274.10,255.33 L274.60,256.31 L275.10,257.34 L275.60,258.39 L276.10,259.46 L276.60,260.55 L277.10,261.64 L277.60,262.72 L278.10,263.79 L278.60,264.84 L279.10,265.87 L279.60,266.86 L280.10,267.82 L280.60,268.74 L281.10,269.61 L281.60,270.43 L282.10,271.20 L282.60,271.91 L283.10,272.56 L283.60,273.14 L284.10,273.66 L284.60,274.10 L285.10,274.47 L285.60,274.76 L286.10,274.97 L286.60,275.10 L287.10,275.16 L287.60,275.13 L288.10,275.02 L288.60,274.83 L289.10,274.57 L289.60,274.23 L290.10,273.82 L290.60,273.34 L291.10,272.79 L291.60,272.18 L292.10,271.51 L292.60,270.78 L293.10,270.01 L293.60,269.20 L294.10,268.37 L294.60,267.51 L295.10,266.65 L295.60,265.79 L296.10,264.94 L296.60,264.12 L297.10,263.32 L297.60,262.56 L298.10,261.85 L298.60,261.19 L299.10,260.59 L299.60,260.05 L300.10,259.58 L300.60,259.19 L301.10,258.88 L301.60,258.66 L302.10,258.53 L302.60,258.50 L303.10,258.58 L303.60,258.76 L304.10,259.06 L304.60,259.47 L305.10,260.01 L305.60,260.67 L306.10,261.46 L306.60,262.38 L307.10,263.43 L307.60,264.60 L308.10,265.87 L308.60,267.23 L309.10,268.64 L309.60,270.09 L310.10,271.54 L310.60,272.96 L311.10,274.33 L311.60,275.63 L312.10,276.85 L312.60,277.97 L313.10,279.00 L313.60,279.93 L314.10,280.76 L314.60,281.51 L315.10,282.16 L315.60,282.73 L316.10,283.22 L316.60,283.64 L317.10,283.98 L317.60,284.26 L318.10,284.48 L318.60,284.65 L319.10,284.78 L319.60,284.87 L320.10,284.93 L320.60,284.96 L321.10,284.98 L321.60,284.98 L322.10,284.97 L322.60,284.97 L323.10,284.97 L323.60,284.98 L324.10,285.00 L324.60,285.05 L325.10,285.12 L325.60,285.23 L326.10,285.37 L326.60,285.55 L327.10,285.77 L327.60,286.04 L328.10,286.36 L328.60,286.71 L329.10,287.11 L329.60,287.55 L330.10,288.02 L330.60,288.52 L331.10,289.05 L331.60,289.60 L332.10,290.15 L332.60,290.68 L333.10,291.19 L333.60,291.64 L334.10,292.03 L334.60,292.33 L335.10,292.54 L335.60,292.64 L336.10,292.63 L336.60,292.50 L337.10,292.28 L337.60,291.95 L338.10,291.53 L338.60,291.03 L339.10,290.45 L339.60,289.81 L340.10,289.10 L340.60,288.35 L341.10,287.57 L341.60,286.76 L342.10,285.93 L342.60,285.11 L343.10,284.30 L343.60,283.52 L344.10,282.78 L344.60,282.10 L345.10,281.49 L345.60,280.95 L346.10,280.51 L346.60,280.18 L347.10,279.96 L347.60,279.87 L348.10,279.90 L348.60,280.06 L349.10,280.34 L349.60,280.72 L350.10,281.20 L350.60,281.75 L351.10,282.36 L351.60,283.00 L352.10,283.67 L352.60,284.35 L353.10,285.02 L353.60,285.67 L354.10,286.29 L354.60,286.86 L355.10,287.37 L355.60,287.82 L356.10,288.19 L356.60,288.46 L357.10,288.64 L357.60,288.71 L358.10,288.69 L358.60,288.57 L359.10,288.35 L359.60,288.06 L360.10,287.70 L360.60,287.28 L361.10,286.82 L361.60,286.32 L362.10,285.80 L362.60,285.26 L363.10,284.69 L363.60,284.12 L364.10,283.52 L364.60,282.90 L365.10,282.25 L365.60,281.57 L366.10,280.85 L366.60,280.09 L367.10,279.30 L367.60,278.46 L368.10,277.61 L368.60,276.77 L369.10,275.97 L369.60,275.25 L370.10,274.64 L370.60,274.18 L371.10,273.88 L371.60,273.75 L372.10,273.78 L372.60,273.95 L373.10,274.22 L373.60,274.57 L374.10,274.95 L374.60,275.34 L375.10,275.69 L375.60,275.96 L376.10,276.14 L376.60,276.19 L377.10,276.10 L377.60,275.86 L378.10,275.49 L378.60,274.99 L379.10,274.39 L379.60,273.71 L380.10,272.98 L380.60,272.23 L381.10,271.47 L381.60,270.73 L382.10,270.03 L382.60,269.38 L383.10,268.79 L383.60,268.25 L384.10,267.77 L384.60,267.36 L385.10,266.99 L385.60,266.68 L386.10,266.43 L386.60,266.21 L387.10,266.03 L387.60,265.88 L388.10,265.74 L388.60,265.59 L389.10,265.40 L389.60,265.17 L390.10,264.88 L390.60,264.53 L391.10,264.11 L391.60,263.64 L392.10,263.13 L392.60,262.60 L393.10,262.06 L393.60,261.53 L394.10,261.03 L394.60,260.56 L395.10,260.13 L395.60,259.76 L396.10,259.45 L396.60,259.21 L397.10,259.05 L397.60,258.96 L398.10,258.95 L398.60,259.00 L399.10,259.11 L399.60,259.25 L400.10,259.41 L400.60,259.57 L401.10,259.71 L401.60,259.81 L402.10,259.86 L402.60,259.85 L403.10,259.77 L403.60,259.62 L404.10,259.42 L404.60,259.17 L405.10,258.91 L405.60,258.65 L406.10,258.41 L406.60,258.21 L407.10,258.06 L407.60,258.00 L408.10,258.02 L408.60,258.13 L409.10,258.33 L409.60,258.61 L410.10,258.97 L410.60,259.39 L411.10,259.87 L411.60,260.39 L412.10,260.95 L412.60,261.53 L413.10,262.14 L413.60,262.75 L414.10,263.36 L414.60,263.96 L415.10,264.55 L415.60,265.12 L416.10,265.66 L416.60,266.16 L417.10,266.62 L417.60,267.04 L418.10,267.42 L418.60,267.76 L419.10,268.08 L419.60,268.37 L420.10,268.64 L420.60,268.91 L421.10,269.18 L421.60,269.46 L422.10,269.76 L422.60,270.08 L423.10,270.44 L423.60,270.85 L424.10,271.30 L424.60,271.81 L425.10,272.37 L425.60,272.99 L426.10,273.67 L426.60,274.39 L427.10,275.15 L427.60,275.95 L428.10,276.77 L428.60,277.60 L429.10,278.44 L429.60,279.28 L430.10,280.11 L430.60,280.92 L431.10,281.71 L431.60,282.46 L432.10,283.17 L432.60,283.84 L433.10,284.46 L433.60,285.06 L434.10,285.62 L434.60,286.18 L435.10,286.73 L435.60,287.29 L436.10,287.89 L436.60,288.52 L437.10,289.20 L437.60,289.94 L438.10,290.74 L438.60,291.60 L439.10,292.52 L439.60,293.49 L440.10,294.50 L440.60,295.53 L441.10,296.58 L441.60,297.64 L442.10,298.69 L442.60,299.72 L443.10,300.73 L443.60,301.69 L444.10,302.60 L444.60,303.45 L445.10,304.22 L445.60,304.89 L446.10,305.45 L446.60,305.89 L447.10,306.20 L447.60,306.36 L448.10,306.36 L448.60,306.21 L449.10,305.90 L449.60,305.44 L450.10,304.84 L450.60,304.10 L451.10,303.24 L451.60,302.26 L452.10,301.17 L452.60,299.98 L453.10,298.69 L453.60,297.33 L454.10,295.90 L454.60,294.41 L455.10,292.86 L455.60,291.28 L456.10,289.67 L456.60,288.04 L457.10,286.40 L457.60,284.75 L458.10,283.11 L458.60,281.47 L459.10,279.85 L459.60,278.24 L460.10,276.66 L460.60,275.09 L461.10,273.55 L461.60,272.04 L462.10,270.57 L462.60,269.13 L463.10,267.74 L463.60,266.39 L464.10,265.10 L464.60,263.87 L465.10,262.70 L465.60,261.60 L466.10,260.59 L466.60,259.65 L467.10,258.80 L467.60,258.03 L468.10,257.34 L468.60,256.73 L469.10,256.19 L469.60,255.72 L470.10,255.29 L470.60,254.90 L471.10,254.55 L471.60,254.21 L472.10,253.89 L472.60,253.58 L473.10,253.27 L473.60,252.97 L474.10,252.68 L474.60,252.39 L475.10,252.12 L475.60,251.87 L476.10,251.64 L476.60,251.43 L477.10,251.26 L477.60,251.13 L478.10,251.03 L478.60,250.98 L479.10,250.98 L479.60,251.03 L480.10,251.14 L480.60,251.30 L481.10,251.52 L481.60,251.80 L482.10,252.12 L482.60,252.49 L483.10,252.91 L483.60,253.36 L484.10,253.86 L484.60,254.39 L485.10,254.95 L485.60,255.52 L486.10,256.11 L486.60,256.69 L487.10,257.27 L487.60,257.81 L488.10,258.32 L488.60,258.77 L489.10,259.15 L489.60,259.45 L490.10,259.66 L490.60,259.76 L491.10,259.75 L491.60,259.63 L492.10,259.39 L492.60,259.05 L493.10,258.61 L493.60,258.09 L494.10,257.49 L494.60,256.83 L495.10,256.12 L495.60,255.38 L496.10,254.62 L496.60,253.84 L497.10,253.07 L497.60,252.30 L498.10,251.56 L498.60,250.84 L499.10,250.15 L499.60,249.51 L500.10,248.91 L500.60,248.37 L501.10,247.89 L501.60,247.47 L502.10,247.13 L502.60,246.86 L503.10,246.69 L503.60,246.60 L504.10,246.60 L504.60,246.70 L505.10,246.89 L505.60,247.17 L506.10,247.54 L506.60,248.00 L507.10,248.53 L507.60,249.14 L508.10,249.81 L508.60,250.54 L509.10,251.31 L509.60,252.11 L510.10,252.92 L510.60,253.72 L511.10,254.51 L511.60,255.26 L512.10,255.96 L512.60,256.61 L513.10,257.19 L513.60,257.71 L514.10,258.14 L514.60,258.49 L515.10,258.76 L515.60,258.94 L516.10,259.03 L516.60,259.05 L517.10,259.02 L517.60,258.94 L518.10,258.86 L518.60,258.79 L519.10,258.76 L519.60,258.79 L520.10,258.92 L520.60,259.15 L521.10,259.50 L521.60,259.95 L522.10,260.51 L522.60,261.16 L523.10,261.88 L523.60,262.66 L524.10,263.48 L524.60,264.34 L525.10,265.22 L525.60,266.13 L526.10,267.06 L526.60,268.01 L527.10,269.00 L527.60,270.03 L528.10,271.09 L528.60,272.20 L529.10,273.35 L529.60,274.53 L530.10,275.73 L530.60,276.93 L531.10,278.11 L531.60,279.24 L532.10,280.30 L532.60,281.28 L533.10,282.13 L533.60,282.85 L534.10,283.42 L534.60,283.80 L535.10,284.01 L535.60,284.04 L536.10,283.90 L536.60,283.60 L537.10,283.17 L537.60,282.63 L538.10,281.99 L538.60,281.29 L539.10,280.55 L539.60,279.79 L540.10,279.02 L540.60,278.28 L541.10,277.57 L541.60,276.90 L542.10,276.29 L542.60,275.72 L543.10,275.21 L543.60,274.74 L544.10,274.32 L544.60,273.95 L545.10,273.61 L545.60,273.30 L546.10,273.01 L546.60,272.74 L547.10,272.46 L547.60,272.18 L548.10,271.87 L548.60,271.54 L549.10,271.16 L549.60,270.73 L550.10,270.26 L550.60,269.75 L551.10,269.19 L551.60,268.61 L552.10,268.00 L552.60,267.38 L553.10,266.75 L553.60,266.12 L554.10,265.51 L554.60,264.91 L555.10,264.34 L555.60,263.80 L556.10,263.29 L556.60,262.82 L557.10,262.39 L557.60,262.01 L558.10,261.67 L558.60,261.39 L559.10,261.16 L559.60,260.99 L560.10,260.87 L560.60,260.82 L561.10,260.82 L561.60,260.88 L562.10,260.99 L562.60,261.16 L563.10,261.39 L563.60,261.67 L564.10,261.99 L564.60,262.37 L565.10,262.79 L565.60,263.24 L566.10,263.71 L566.60,264.20 L567.10,264.69 L567.60,265.18 L568.10,265.65 L568.60,266.09 L569.10,266.49 L569.60,266.84 L570.10,267.13 L570.60,267.35 L571.10,267.49 L571.60,267.55 L572.10,267.54 L572.60,267.44 L573.10,267.28 L573.60,267.07 L574.10,266.81 L574.60,266.52 L575.10,266.21 L575.60,265.89 L576.10,265.57 L576.60,265.27 L577.10,264.98 L577.60,264.72 L578.10,264.49 L578.60,264.29 L579.10,264.11 L579.60,263.97 L580.10,263.86 L580.60,263.78 L581.10,263.72 L581.60,263.70 L582.10,263.70 L582.60,263.73 L583.10,263.78 L583.60,263.87 L584.10,263.98 L584.60,264.11 L585.10,264.27 L585.60,264.46 L586.10,264.66 L586.60,264.87 L587.10,265.10 L587.60,265.33 L588.10,265.56 L588.60,265.78 L589.10,266.00 L589.60,266.19 L590.10,266.37 L590.60,266.52 L591.10,266.63 L591.60,266.71 L592.10,266.74 L592.60,266.73 L593.10,266.67 L593.60,266.57 L594.10,266.44 L594.60,266.27 L595.10,266.09 L595.60,265.90 L596.10,265.71 L596.60,265.53 L597.10,265.38 L597.60,265.26 L598.10,265.19 L598.60,265.16 L599.10,265.18 L599.60,265.25 L600.10,265.36 L600.60,265.52 L601.10,265.71 L601.60,265.95 L602.10,266.22 L602.60,266.52 L603.10,266.84 L603.60,267.17 L604.10,267.51 L604.60,267.83 L605.10,268.14 L605.60,268.40 L606.10,268.61 L606.60,268.75 L607.10,268.81 L607.60,268.79 L608.10,268.69 L608.60,268.51 L609.10,268.27 L609.60,267.99 L610.10,267.68 L610.60,267.36 L611.10,267.06 L611.60,266.79 L612.10,266.56 L612.60,266.38 L613.10,266.23 L613.60,266.10 L614.10,265.96 L614.60,265.76 L615.10,265.48 L615.60,265.07 L616.10,264.53 L616.60,263.84 L617.10,263.02 L617.60,262.08 L618.10,261.06 L618.60,259.98 L619.10,258.89 L619.60,257.81 L620.10,256.79 L620.60,255.84 L621.10,254.98 L621.60,254.24 L622.10,253.61 L622.60,253.07 L623.10,252.62 L623.60,252.24 L624.10,251.90 L624.60,251.58 L625.10,251.28 L625.60,250.96 L626.10,250.62 L626.60,250.24 L627.10,249.82 L627.60,249.37 L628.10,248.89 L628.60,248.38 L629.10,247.86 L629.60,247.32 L630.10,246.79 L630.60,246.26 L631.10,245.75 L631.60,245.26 L632.10,244.81 L632.60,244.39 L633.10,244.02 L633.60,243.71 L634.10,243.47 L634.60,243.30 L635.10,243.21 L635.60,243.23 L636.10,243.36 L636.60,243.62 L637.10,244.03 L637.60,244.62 L638.10,245.40 L638.60,246.38 L639.10,247.56 L639.60,248.92 L640.10,250.42 L640.60,252.03 L641.10,253.70 L641.60,255.37 L642.10,257.00 L642.60,258.53 L643.10,259.92 L643.60,261.17 L644.10,262.24 L644.60,263.14 L645.10,263.87 L645.60,264.45 L646.10,264.88 L646.60,265.18 L647.10,265.35 L647.60,265.41 L648.10,265.38 L648.60,265.27 L649.10,265.08 L649.60,264.85 L650.10,264.57 L650.60,264.27 L651.10,263.97 L651.60,263.67 L652.10,263.39 L652.60,263.15 L653.10,262.95 L653.60,262.82 L654.10,262.76 L654.60,262.77 L655.10,262.85 L655.60,262.99 L656.10,263.17 L656.60,263.39 L657.10,263.63 L657.60,263.87 L658.10,264.10 L658.60,264.31 L659.10,264.48 L659.60,264.62 L660.10,264.73 L660.60,264.81 L661.10,264.90 L661.60,264.99 L662.10,265.12 L662.60,265.30 L663.10,265.55 L663.60,265.89 L664.10,266.33 L664.60,266.88 L665.10,267.52 L665.60,268.27 L666.10,269.09 L666.60,269.97 L667.10,270.90 L667.60,271.84 L668.10,272.79 L668.60,273.71 L669.10,274.60 L669.60,275.45 L670.10,276.23 L670.60,276.95 L671.10,277.59 L671.60,278.15 L672.10,278.61 L672.60,278.97 L673.10,279.23 L673.60,279.37 L674.10,279.42 L674.60,279.36 L675.10,279.23 L675.60,279.04 L676.10,278.83 L676.60,278.64 L676.85,278.56" fill="none" stroke="#811232" stroke-width="2" stroke-linejoin="round" stroke-linecap="round"/>
<text x="63.4" y="333.9" font-size="13.30" text-anchor="middle" font-weight="normal" fill="#000" >0</text>
<text x="114.5" y="333.9" font-size="13.30" text-anchor="middle" font-weight="normal" fill="#000" >1</text>
<text x="165.7" y="333.9" font-size="13.30" text-anchor="middle" font-weight="normal" fill="#000" >2</text>
<text x="216.8" y="333.9" font-size="13.30" text-anchor="middle" font-weight="normal" fill="#000" >3</text>
<text x="267.9" y="333.9" font-size="13.30" text-anchor="middle" font-weight="normal" fill="#000" >4</text>
<text x="319.1" y="333.9" font-size="13.30" text-anchor="middle" font-weight="normal" fill="#000" >5</text>
<text x="370.2" y="333.9" font-size="13.30" text-anchor="middle" font-weight="normal" fill="#000" >6</text>
<text x="421.3" y="333.9" font-size="13.30" text-anchor="middle" font-weight="normal" fill="#000" >7</text>
<text x="472.4" y="333.9" font-size="13.30" text-anchor="middle" font-weight="normal" fill="#000" >8</text>
<text x="523.6" y="333.9" font-size="13.30" text-anchor="middle" font-weight="normal" fill="#000" >9</text>
<text x="574.7" y="333.9" font-size="13.30" text-anchor="middle" font-weight="normal" fill="#000" >10</text>
<text x="625.8" y="333.9" font-size="13.30" text-anchor="middle" font-weight="normal" fill="#000" >11</text>
<text x="677.0" y="333.9" font-size="13.30" text-anchor="middle" font-weight="normal" fill="#000" >12</text>
<text x="58.2" y="228.3" font-size="13.30" text-anchor="end" font-weight="normal" fill="#000" >0.01</text>
<text x="58.2" y="271.1" font-size="13.30" text-anchor="end" font-weight="normal" fill="#000" >0</text>
<text x="58.2" y="312.9" font-size="13.30" text-anchor="end" font-weight="normal" fill="#000" >-0.01</text>
<text transform="translate(22.4,266.6) rotate(-90)" font-size="16.5" text-anchor="middle" fill="#000" textLength="70" lengthAdjust="spacingAndGlyphs">Similarity</text>
<text x="355.2" y="359.1" font-size="16.00" text-anchor="middle" font-weight="normal" fill="#000" textLength="128.5" lengthAdjust="spacingAndGlyphs" >Time of BC movie</text>
<rect x="578.2" y="39.2" width="23.0" height="10.6" fill="#efcdb2"/>
<rect x="578.2" y="57.7" width="23.0" height="10.2" fill="#bcc4d8"/>
<text x="608.8" y="49.0" font-size="12.30" text-anchor="start" font-weight="normal" fill="#000" textLength="51.0" lengthAdjust="spacingAndGlyphs" >Similarity</text>
<text x="608.8" y="67.2" font-size="12.30" text-anchor="start" font-weight="normal" fill="#000" textLength="67.8" lengthAdjust="spacingAndGlyphs" >Dissimilarity</text>
<text x="142.6" y="419.3" font-size="12.60" text-anchor="middle" font-weight="normal" fill="#000" textLength="108.5" lengthAdjust="spacingAndGlyphs" >Similarity at ~2.8s</text>
<line x1="65.7" y1="417.6" x2="65.7" y2="585.2" stroke="#333" stroke-width="1.1"/>
<line x1="65.7" y1="585.2" x2="224.1" y2="585.2" stroke="#333" stroke-width="1.1"/>
<line x1="63.5" y1="451.0" x2="65.7" y2="451.0" stroke="#333" stroke-width="1"/>
<text x="63.3" y="455.5" font-size="12.40" text-anchor="end" font-weight="normal" fill="#4a4a4a" >0.2</text>
<line x1="63.5" y1="502.2" x2="65.7" y2="502.2" stroke="#333" stroke-width="1"/>
<text x="63.3" y="506.7" font-size="12.40" text-anchor="end" font-weight="normal" fill="#4a4a4a" >0.0</text>
<line x1="63.5" y1="553.4" x2="65.7" y2="553.4" stroke="#333" stroke-width="1"/>
<text x="63.3" y="557.9" font-size="12.40" text-anchor="end" font-weight="normal" fill="#4a4a4a" >-0.2</text>
<text transform="translate(38.7,502.2) rotate(-90)" font-size="13.2" text-anchor="middle" fill="#000" textLength="50.6" lengthAdjust="spacingAndGlyphs">Similarity</text>
<line x1="109.6" y1="469.5" x2="109.6" y2="526.0" stroke="#bdbdbd" stroke-width="1"/>
<rect x="91.0" y="484.4" width="35.8" height="19.6" fill="#eb8a4f" stroke="#d27a42" stroke-width="0.6"/>
<line x1="91.0" y1="493.3" x2="126.8" y2="493.3" stroke="#8a4a25" stroke-width="1.0"/>
<line x1="109.6" y1="585.2" x2="109.6" y2="587.7" stroke="#333" stroke-width="1"/>
<text x="109.6" y="596.6" font-size="12.60" text-anchor="middle" font-weight="normal" fill="#333" textLength="43.0" lengthAdjust="spacingAndGlyphs" >Correct</text>
<circle cx="104.6" cy="437.8" r="1.50" fill="#ee571a"/>
<circle cx="107.7" cy="469.6" r="1.50" fill="#ee571a"/>
<circle cx="111.0" cy="468.3" r="1.50" fill="#ee571a"/>
<circle cx="106.6" cy="472.7" r="1.50" fill="#ee571a"/>
<circle cx="112.6" cy="470.9" r="1.50" fill="#ee571a"/>
<circle cx="112.6" cy="481.2" r="1.50" fill="#ee571a"/>
<circle cx="111.0" cy="483.8" r="1.50" fill="#ee571a"/>
<circle cx="108.4" cy="485.6" r="1.50" fill="#ee571a"/>
<circle cx="107.2" cy="488.2" r="1.50" fill="#ee571a"/>
<circle cx="109.7" cy="488.2" r="1.50" fill="#ee571a"/>
<circle cx="105.9" cy="492.1" r="1.50" fill="#ee571a"/>
<circle cx="109.0" cy="492.6" r="1.50" fill="#ee571a"/>
<circle cx="107.2" cy="495.9" r="1.50" fill="#ee571a"/>
<circle cx="110.5" cy="495.9" r="1.50" fill="#ee571a"/>
<circle cx="105.9" cy="499.3" r="1.50" fill="#ee571a"/>
<circle cx="108.4" cy="499.8" r="1.50" fill="#ee571a"/>
<circle cx="104.6" cy="503.7" r="1.50" fill="#ee571a"/>
<circle cx="107.2" cy="502.4" r="1.50" fill="#ee571a"/>
<circle cx="108.4" cy="506.3" r="1.50" fill="#ee571a"/>
<circle cx="112.1" cy="507.1" r="1.50" fill="#ee571a"/>
<circle cx="110.8" cy="514.8" r="1.50" fill="#ee571a"/>
<circle cx="111.8" cy="526.2" r="1.50" fill="#ee571a"/>
<circle cx="107.7" cy="543.0" r="1.50" fill="#ee571a"/>
<circle cx="110.8" cy="545.1" r="1.50" fill="#ee571a"/>
<circle cx="106.6" cy="558.0" r="1.50" fill="#ee571a"/>
<line x1="180.6" y1="460.2" x2="180.6" y2="578.0" stroke="#bdbdbd" stroke-width="1"/>
<rect x="162.5" y="499.0" width="36.7" height="39.3" fill="#f6dcc8" stroke="#c9b5a6" stroke-width="0.6"/>
<line x1="162.5" y1="515.5" x2="199.2" y2="515.5" stroke="#8a7a6e" stroke-width="1.0"/>
<line x1="180.6" y1="585.2" x2="180.6" y2="587.7" stroke="#333" stroke-width="1"/>
<text x="180.6" y="596.6" font-size="12.60" text-anchor="middle" font-weight="normal" fill="#333" textLength="51.0" lengthAdjust="spacingAndGlyphs" >Incorrect</text>
<circle cx="182.1" cy="460.6" r="1.25" fill="#f0bf98"/>
<circle cx="184.0" cy="468.1" r="1.25" fill="#f0bf98"/>
<circle cx="175.8" cy="473.3" r="1.25" fill="#f0bf98"/>
<circle cx="180.6" cy="482.8" r="1.25" fill="#f0bf98"/>
<circle cx="181.7" cy="486.7" r="1.25" fill="#f0bf98"/>
<circle cx="177.2" cy="488.9" r="1.25" fill="#f0bf98"/>
<circle cx="181.2" cy="493.0" r="1.25" fill="#f0bf98"/>
<circle cx="181.7" cy="498.7" r="1.25" fill="#f0bf98"/>
<circle cx="185.1" cy="504.3" r="1.25" fill="#f0bf98"/>
<circle cx="184.0" cy="511.6" r="1.25" fill="#f0bf98"/>
<circle cx="178.3" cy="516.8" r="1.25" fill="#f0bf98"/>
<circle cx="181.7" cy="519.7" r="1.25" fill="#f0bf98"/>
<circle cx="178.3" cy="523.6" r="1.25" fill="#f0bf98"/>
<circle cx="181.7" cy="522.4" r="1.25" fill="#f0bf98"/>
<circle cx="184.0" cy="536.7" r="1.25" fill="#f0bf98"/>
<circle cx="185.8" cy="539.4" r="1.25" fill="#f0bf98"/>
<circle cx="182.8" cy="541.7" r="1.25" fill="#f0bf98"/>
<circle cx="184.0" cy="544.6" r="1.25" fill="#f0bf98"/>
<circle cx="185.8" cy="556.4" r="1.25" fill="#f0bf98"/>
<circle cx="176.7" cy="560.3" r="1.25" fill="#f0bf98"/>
<circle cx="182.4" cy="567.7" r="1.25" fill="#f0bf98"/>
<circle cx="175.8" cy="577.9" r="1.25" fill="#f0bf98"/>
<line x1="65.7" y1="502.2" x2="224.1" y2="502.2" stroke="#444" stroke-width="1.15" stroke-dasharray="2,2.56" stroke-dashoffset="3.5"/>
<text x="149.9" y="614.2" font-size="15.20" text-anchor="middle" font-weight="normal" fill="#000" textLength="93.0" lengthAdjust="spacingAndGlyphs" >AC Association</text>
<text x="360.2" y="419.3" font-size="12.60" text-anchor="middle" font-weight="normal" fill="#000" textLength="110.0" lengthAdjust="spacingAndGlyphs" >Similarity at ~3.7s</text>
<line x1="281.6" y1="417.6" x2="281.6" y2="585.2" stroke="#333" stroke-width="1.1"/>
<line x1="281.6" y1="585.2" x2="439.2" y2="585.2" stroke="#333" stroke-width="1.1"/>
<line x1="279.4" y1="451.0" x2="281.6" y2="451.0" stroke="#333" stroke-width="1"/>
<text x="279.2" y="455.5" font-size="12.40" text-anchor="end" font-weight="normal" fill="#4a4a4a" >0.2</text>
<line x1="279.4" y1="502.2" x2="281.6" y2="502.2" stroke="#333" stroke-width="1"/>
<text x="279.2" y="506.7" font-size="12.40" text-anchor="end" font-weight="normal" fill="#4a4a4a" >0.0</text>
<line x1="279.4" y1="553.4" x2="281.6" y2="553.4" stroke="#333" stroke-width="1"/>
<text x="279.2" y="557.9" font-size="12.40" text-anchor="end" font-weight="normal" fill="#4a4a4a" >-0.2</text>
<text transform="translate(254.6,502.2) rotate(-90)" font-size="13.2" text-anchor="middle" fill="#000" textLength="50.6" lengthAdjust="spacingAndGlyphs">Similarity</text>
<line x1="324.5" y1="470.0" x2="324.5" y2="532.0" stroke="#bdbdbd" stroke-width="1"/>
<rect x="306.5" y="496.6" width="35.9" height="18.0" fill="#eb8a4f" stroke="#d27a42" stroke-width="0.6"/>
<line x1="306.5" y1="506.6" x2="342.4" y2="506.6" stroke="#8a4a25" stroke-width="1.0"/>
<line x1="324.5" y1="585.2" x2="324.5" y2="587.7" stroke="#333" stroke-width="1"/>
<text x="324.5" y="596.6" font-size="12.60" text-anchor="middle" font-weight="normal" fill="#333" textLength="43.0" lengthAdjust="spacingAndGlyphs" >Correct</text>
<circle cx="326.0" cy="468.1" r="1.50" fill="#ee571a"/>
<circle cx="322.6" cy="473.8" r="1.50" fill="#ee571a"/>
<circle cx="329.0" cy="482.1" r="1.50" fill="#ee571a"/>
<circle cx="328.3" cy="487.3" r="1.50" fill="#ee571a"/>
<circle cx="325.6" cy="491.9" r="1.50" fill="#ee571a"/>
<circle cx="319.9" cy="491.9" r="1.50" fill="#ee571a"/>
<circle cx="320.4" cy="495.2" r="1.50" fill="#ee571a"/>
<circle cx="319.9" cy="497.5" r="1.50" fill="#ee571a"/>
<circle cx="328.3" cy="501.6" r="1.50" fill="#ee571a"/>
<circle cx="321.5" cy="504.3" r="1.50" fill="#ee571a"/>
<circle cx="326.0" cy="506.6" r="1.50" fill="#ee571a"/>
<circle cx="323.8" cy="508.8" r="1.50" fill="#ee571a"/>
<circle cx="321.5" cy="510.6" r="1.50" fill="#ee571a"/>
<circle cx="329.0" cy="512.9" r="1.50" fill="#ee571a"/>
<circle cx="319.9" cy="514.5" r="1.50" fill="#ee571a"/>
<circle cx="323.3" cy="516.1" r="1.50" fill="#ee571a"/>
<circle cx="322.6" cy="521.9" r="1.50" fill="#ee571a"/>
<circle cx="328.5" cy="528.7" r="1.50" fill="#ee571a"/>
<circle cx="323.1" cy="533.7" r="1.50" fill="#ee571a"/>
<circle cx="320.4" cy="536.4" r="1.50" fill="#ee571a"/>
<circle cx="327.1" cy="564.3" r="1.50" fill="#ee571a"/>
<line x1="396.2" y1="462.5" x2="396.2" y2="552.0" stroke="#bdbdbd" stroke-width="1"/>
<rect x="378.4" y="484.1" width="35.9" height="33.5" fill="#f6dcc8" stroke="#c9b5a6" stroke-width="0.6"/>
<line x1="378.4" y1="494.2" x2="414.3" y2="494.2" stroke="#6f6a66" stroke-width="1.0"/>
<line x1="396.2" y1="585.2" x2="396.2" y2="587.7" stroke="#333" stroke-width="1"/>
<text x="396.2" y="596.6" font-size="12.60" text-anchor="middle" font-weight="normal" fill="#333" textLength="51.0" lengthAdjust="spacingAndGlyphs" >Incorrect</text>
<circle cx="392.3" cy="426.1" r="1.25" fill="#f0bf98"/>
<circle cx="395.5" cy="426.1" r="1.25" fill="#f0bf98"/>
<circle cx="398.6" cy="462.5" r="1.25" fill="#f0bf98"/>
<circle cx="393.1" cy="469.8" r="1.25" fill="#f0bf98"/>
<circle cx="395.5" cy="479.5" r="1.25" fill="#f0bf98"/>
<circle cx="398.6" cy="484.3" r="1.25" fill="#f0bf98"/>
<circle cx="391.8" cy="492.3" r="1.25" fill="#f0bf98"/>
<circle cx="393.8" cy="493.3" r="1.25" fill="#f0bf98"/>
<circle cx="397.9" cy="494.0" r="1.25" fill="#f0bf98"/>
<circle cx="401.1" cy="497.2" r="1.25" fill="#f0bf98"/>
<circle cx="399.6" cy="515.9" r="1.25" fill="#f0bf98"/>
<circle cx="398.6" cy="518.3" r="1.25" fill="#f0bf98"/>
<circle cx="399.6" cy="524.4" r="1.25" fill="#f0bf98"/>
<circle cx="401.1" cy="530.4" r="1.25" fill="#f0bf98"/>
<circle cx="393.8" cy="535.3" r="1.25" fill="#f0bf98"/>
<circle cx="400.3" cy="534.6" r="1.25" fill="#f0bf98"/>
<circle cx="400.3" cy="545.7" r="1.25" fill="#f0bf98"/>
<circle cx="397.9" cy="551.6" r="1.25" fill="#f0bf98"/>
<line x1="281.6" y1="502.2" x2="439.2" y2="502.2" stroke="#444" stroke-width="1.15" stroke-dasharray="2,2.56" stroke-dashoffset="3.5"/>
<text x="364.2" y="614.2" font-size="15.20" text-anchor="middle" font-weight="normal" fill="#000" textLength="96.0" lengthAdjust="spacingAndGlyphs" >Source Memory</text>
<text x="577.2" y="419.3" font-size="12.60" text-anchor="middle" font-weight="normal" fill="#000" textLength="128.0" lengthAdjust="spacingAndGlyphs" >Dissimilarity at ~7.4s</text>
<line x1="496.6" y1="417.6" x2="496.6" y2="585.2" stroke="#333" stroke-width="1.1"/>
<line x1="496.6" y1="585.2" x2="654.3" y2="585.2" stroke="#333" stroke-width="1.1"/>
<line x1="494.4" y1="451.0" x2="496.6" y2="451.0" stroke="#333" stroke-width="1"/>
<text x="494.2" y="455.5" font-size="12.40" text-anchor="end" font-weight="normal" fill="#4a4a4a" >0.2</text>
<line x1="494.4" y1="502.2" x2="496.6" y2="502.2" stroke="#333" stroke-width="1"/>
<text x="494.2" y="506.7" font-size="12.40" text-anchor="end" font-weight="normal" fill="#4a4a4a" >0.0</text>
<line x1="494.4" y1="553.4" x2="496.6" y2="553.4" stroke="#333" stroke-width="1"/>
<text x="494.2" y="557.9" font-size="12.40" text-anchor="end" font-weight="normal" fill="#4a4a4a" >-0.2</text>
<text transform="translate(469.6,502.2) rotate(-90)" font-size="13.2" text-anchor="middle" fill="#000" textLength="50.6" lengthAdjust="spacingAndGlyphs">Similarity</text>
<line x1="539.5" y1="483.5" x2="539.5" y2="536.0" stroke="#bdbdbd" stroke-width="1"/>
<rect x="521.9" y="497.9" width="36.0" height="19.4" fill="#6378ad" stroke="#4a5c8c" stroke-width="0.6"/>
<line x1="521.9" y1="507.0" x2="557.9" y2="507.0" stroke="#34416a" stroke-width="1.0"/>
<line x1="539.5" y1="585.2" x2="539.5" y2="587.7" stroke="#333" stroke-width="1"/>
<text x="539.5" y="596.6" font-size="12.60" text-anchor="middle" font-weight="normal" fill="#333" textLength="43.0" lengthAdjust="spacingAndGlyphs" >Correct</text>
<circle cx="542.8" cy="460.0" r="1.50" fill="#1b266a"/>
<circle cx="534.7" cy="482.8" r="1.50" fill="#1b266a"/>
<circle cx="542.8" cy="483.2" r="1.50" fill="#1b266a"/>
<circle cx="536.0" cy="485.9" r="1.50" fill="#1b266a"/>
<circle cx="537.7" cy="489.6" r="1.50" fill="#1b266a"/>
<circle cx="537.3" cy="492.9" r="1.50" fill="#1b266a"/>
<circle cx="540.9" cy="495.8" r="1.50" fill="#1b266a"/>
<circle cx="539.0" cy="498.5" r="1.50" fill="#1b266a"/>
<circle cx="534.4" cy="502.6" r="1.50" fill="#1b266a"/>
<circle cx="539.3" cy="502.6" r="1.50" fill="#1b266a"/>
<circle cx="543.3" cy="504.2" r="1.50" fill="#1b266a"/>
<circle cx="535.2" cy="506.6" r="1.50" fill="#1b266a"/>
<circle cx="538.5" cy="507.4" r="1.50" fill="#1b266a"/>
<circle cx="542.5" cy="511.2" r="1.50" fill="#1b266a"/>
<circle cx="544.9" cy="511.2" r="1.50" fill="#1b266a"/>
<circle cx="535.2" cy="513.1" r="1.50" fill="#1b266a"/>
<circle cx="539.3" cy="513.9" r="1.50" fill="#1b266a"/>
<circle cx="541.2" cy="514.7" r="1.50" fill="#1b266a"/>
<circle cx="539.0" cy="516.3" r="1.50" fill="#1b266a"/>
<circle cx="542.8" cy="520.4" r="1.50" fill="#1b266a"/>
<circle cx="544.1" cy="521.2" r="1.50" fill="#1b266a"/>
<circle cx="541.7" cy="528.0" r="1.50" fill="#1b266a"/>
<circle cx="536.8" cy="530.9" r="1.50" fill="#1b266a"/>
<circle cx="535.2" cy="534.5" r="1.50" fill="#1b266a"/>
<circle cx="538.1" cy="534.5" r="1.50" fill="#1b266a"/>
<circle cx="540.1" cy="538.2" r="1.50" fill="#1b266a"/>
<line x1="611.3" y1="444.0" x2="611.3" y2="534.6" stroke="#bdbdbd" stroke-width="1"/>
<rect x="594.3" y="478.2" width="35.2" height="38.6" fill="#d7dce8" stroke="#98a0b5" stroke-width="0.6"/>
<line x1="594.3" y1="484.4" x2="629.5" y2="484.4" stroke="#4f5668" stroke-width="1.0"/>
<line x1="611.3" y1="585.2" x2="611.3" y2="587.7" stroke="#333" stroke-width="1"/>
<text x="611.3" y="596.6" font-size="12.60" text-anchor="middle" font-weight="normal" fill="#333" textLength="51.0" lengthAdjust="spacingAndGlyphs" >Incorrect</text>
<circle cx="611.2" cy="444.3" r="1.25" fill="#a3b0d2"/>
<circle cx="611.3" cy="458.1" r="1.25" fill="#a3b0d2"/>
<circle cx="609.0" cy="461.3" r="1.25" fill="#a3b0d2"/>
<circle cx="611.7" cy="467.9" r="1.25" fill="#a3b0d2"/>
<circle cx="609.0" cy="473.6" r="1.25" fill="#a3b0d2"/>
<circle cx="607.2" cy="477.7" r="1.25" fill="#a3b0d2"/>
<circle cx="610.8" cy="479.1" r="1.25" fill="#a3b0d2"/>
<circle cx="609.0" cy="480.9" r="1.25" fill="#a3b0d2"/>
<circle cx="614.4" cy="484.5" r="1.25" fill="#a3b0d2"/>
<circle cx="608.1" cy="495.9" r="1.25" fill="#a3b0d2"/>
<circle cx="607.2" cy="500.5" r="1.25" fill="#a3b0d2"/>
<circle cx="608.1" cy="513.3" r="1.25" fill="#a3b0d2"/>
<circle cx="612.6" cy="517.7" r="1.25" fill="#a3b0d2"/>
<circle cx="607.2" cy="523.1" r="1.25" fill="#a3b0d2"/>
<circle cx="612.6" cy="523.1" r="1.25" fill="#a3b0d2"/>
<circle cx="614.4" cy="525.7" r="1.25" fill="#a3b0d2"/>
<circle cx="613.5" cy="532.5" r="1.25" fill="#a3b0d2"/>
<circle cx="614.4" cy="534.3" r="1.25" fill="#a3b0d2"/>
<line x1="496.6" y1="502.2" x2="654.3" y2="502.2" stroke="#444" stroke-width="1.15" stroke-dasharray="2,2.56" stroke-dashoffset="3.5"/>
<text x="579.3" y="614.2" font-size="15.20" text-anchor="middle" font-weight="normal" fill="#000" textLength="96.0" lengthAdjust="spacingAndGlyphs" >Source Memory</text>
</svg>
</body></html>
